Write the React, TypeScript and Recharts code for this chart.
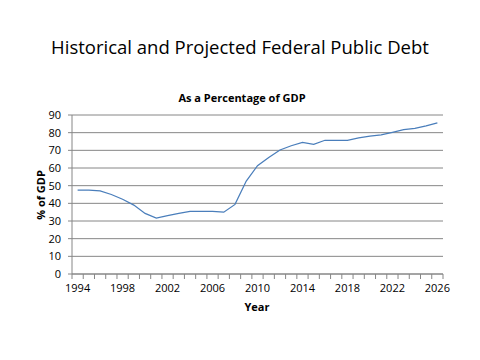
import { CartesianGrid, Line, LineChart, XAxis, YAxis } from "recharts";

const years = [
  1994, 1995, 1996, 1997, 1998, 1999, 2000, 2001, 2002, 2003, 2004, 2005, 2006, 2007, 2008, 2009, 2010,
  2011, 2012, 2013, 2014, 2015, 2016, 2017, 2018, 2019, 2020, 2021, 2022, 2023, 2024, 2025, 2026
];
const debtPct = [
  47.5, 47.5, 47, 45, 42.3, 39, 34.3, 31.7, 33, 34.3, 35.5, 35.5, 35.5, 35, 39.4, 52.6, 61.3,
  66, 70.2, 72.6, 74.5, 73.4, 75.7, 75.7, 75.7, 77, 78.1, 78.7, 80.2, 81.7, 82.4, 83.9, 85.6
];
const yTicks = [0, 10, 20, 30, 40, 50, 60, 70, 80, 90];
const labelYears = [1994, 1998, 2002, 2006, 2010, 2014, 2018, 2022, 2026];

const data = years.map((year, i) => ({ year, debt: debtPct[i] }));
const boundaries = [...years.map((y) => y - 0.5), years[years.length - 1] + 0.5];

const font = "'Open Sans', sans-serif";
const axisColor = "#868686";

function YearTick(props: any) {
  const { x, y, payload } = props;
  const v = payload.value;
  if (v % 1 !== 0) {
    return <line x1={x} y1={y} x2={x} y2={y + 5} stroke={axisColor} />;
  }
  if (!labelYears.includes(v)) return null;
  return (
    <text x={x} y={y + 18} textAnchor="middle" fontSize={11} fontFamily={font} fill="#000">
      {v}
    </text>
  );
}

export default function App() {
  return (
    <div style={{ position: "absolute", left: 0, top: 0, width: 480, height: 360, background: "#fff", fontFamily: font }}>
      <div style={{ position: "absolute", top: 33, width: 480, textAlign: "center", fontSize: 18.5, lineHeight: "28px" }}>
        Historical and Projected Federal Public Debt
      </div>
      <div style={{ position: "absolute", top: 90, width: 484, textAlign: "center", fontSize: 11, fontWeight: 700, lineHeight: "16px" }}>
        As a Percentage of GDP
      </div>
      <div style={{ position: "absolute", top: 299, left: 0, width: 514, textAlign: "center", fontSize: 11, fontWeight: 700, lineHeight: "16px" }}>
        Year
      </div>
      <div
        style={{
          position: "absolute",
          left: 40,
          top: 195,
          transform: "translate(-50%, -50%) rotate(-90deg)",
          fontSize: 11,
          fontWeight: 700,
          whiteSpace: "nowrap"
        }}
      >
        % of GDP
      </div>
      <div style={{ position: "absolute", left: 0, top: 0 }}>
        <LineChart width={480} height={360} data={data} margin={{ top: 115, right: 37, bottom: 56, left: 0 }}>
          <CartesianGrid horizontal vertical={false} stroke={axisColor} strokeDasharray="" />
          <XAxis
            dataKey="year"
            type="number"
            domain={[1993.5, 2026.5]}
            ticks={[...boundaries, ...labelYears]}
            interval={0}
            tick={<YearTick />}
            tickLine={false}
            tickSize={0}
            tickMargin={0}
            stroke={axisColor}
            height={30}
          />
          <YAxis
            type="number"
            domain={[0, 90]}
            ticks={yTicks}
            interval={0}
            width={72}
            tickSize={4}
            tickMargin={7}
            stroke={axisColor}
            tick={{ fontSize: 11, fontFamily: font, fill: "#000" }}
          />
          <Line type="linear" dataKey="debt" stroke="#4a7ebb" strokeWidth={1.25} dot={false} isAnimationActive={false} />
        </LineChart>
      </div>
    </div>
  );
}
